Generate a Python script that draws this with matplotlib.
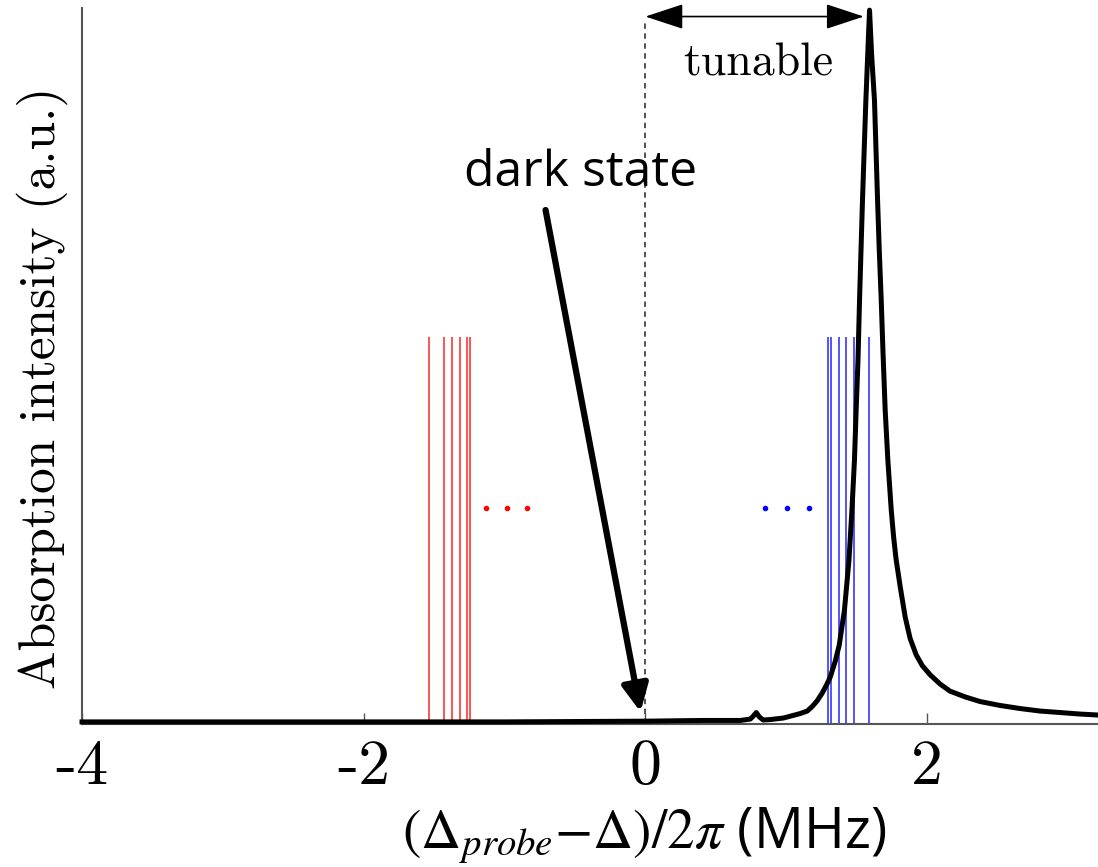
import matplotlib
matplotlib.use('Agg')
import matplotlib.pyplot as plt

plt.rcParams['mathtext.fontset'] = 'stix'

# absorption curve
curve_x = [-4.0, -3.0, -2.0, -1.0, 0.0, 0.4, 0.674, 0.745, 0.766, 0.787, 0.809, 0.837,
           0.887, 0.979, 1.099, 1.149, 1.184, 1.218, 1.255, 1.289, 1.312, 1.348, 1.376,
           1.397, 1.413, 1.429, 1.445, 1.466, 1.484, 1.496, 1.509, 1.520, 1.541, 1.565,
           1.578, 1.591, 1.606, 1.626, 1.648, 1.660, 1.674, 1.686, 1.702, 1.721, 1.745,
           1.762, 1.780, 1.809, 1.844, 1.879, 1.922, 1.965, 2.021, 2.092, 2.163, 2.270,
           2.376, 2.518, 2.660, 2.801, 2.943, 3.085, 3.213]
curve_y = [0.003, 0.003, 0.003, 0.003, 0.004, 0.005, 0.005, 0.007, 0.0112, 0.0161, 0.0098,
           0.0056, 0.0063, 0.0084, 0.0147, 0.0182, 0.0245, 0.0322, 0.0434, 0.056, 0.0658,
           0.0882, 0.1106, 0.1387, 0.1597, 0.1947, 0.2297, 0.2997, 0.3697, 0.4398, 0.5098,
           0.5938, 0.7339, 0.8739, 0.937, 1.0, 0.937, 0.874, 0.734, 0.664, 0.594, 0.524,
           0.440, 0.370, 0.300, 0.262, 0.230, 0.192, 0.150, 0.120, 0.097, 0.082, 0.069,
           0.056, 0.046, 0.038, 0.0315, 0.026, 0.0217, 0.0182, 0.0161, 0.014, 0.0126]

# red / blue transition lines and the dots next to them
red_x = [-1.539, -1.430, -1.376, -1.319, -1.267, -1.243]
blue_x = [1.293, 1.317, 1.374, 1.426, 1.480, 1.589]
line_top = 0.542
red_dots_x = [-1.133, -0.986, -0.839]
blue_dots_x = [0.851, 1.007, 1.163]
dots_y = 0.3025

xticks = [-4, -2, 0, 2]
xtick_labels = ['-4', '-2', '0', '2']

fig = plt.figure(figsize=(10.98, 8.67), dpi=100)
ax = fig.add_axes([0.0747, 0.1649, 0.9253, 0.8259])

ax.vlines(red_x, 0, line_top, colors='#ff1a1a', lw=1.4, alpha=0.75)
ax.vlines(blue_x, 0, line_top, colors='#1a1aff', lw=1.4, alpha=0.75)
ax.plot(red_dots_x, [dots_y] * 3, 'o', color='red', ms=4, mec='none')
ax.plot(blue_dots_x, [dots_y] * 3, 'o', color='blue', ms=4, mec='none')

# dashed line at zero detuning
ax.plot([0, 0], [0, 0.983], color='#444444', lw=1.3, ls=(0, (3, 2.5)))

ax.plot(curve_x, curve_y, color='black', lw=3.6, solid_joinstyle='round', clip_on=False, zorder=5)

# tunable arrow
ax.annotate('', xy=(0.0, 0.991), xytext=(1.55, 0.991),
            arrowprops=dict(arrowstyle='<|-|>,head_length=1.0,head_width=0.33',
                            mutation_scale=24, color='black', lw=1.2, shrinkA=0, shrinkB=0))
ax.text(0.8, 0.925, 'tunable', family='cmr10', fontsize=33, ha='center', va='center')

# dark state arrow
ax.annotate('', xy=(-0.035, 0.017), xytext=(-0.709, 0.72),
            arrowprops=dict(arrowstyle='-|>,head_length=0.45,head_width=0.22',
                            mutation_scale=36, color='black', lw=4.5, shrinkA=0, shrinkB=0))
ax.text(-0.459, 0.772, 'dark state', family='Open Sans', fontsize=36, ha='center', va='center')

ax.set_xlim(-4, 3.213)
ax.set_ylim(0, 1.003)
ax.set_xticks(xticks)
ax.set_xticklabels(xtick_labels, family='cmr10', fontsize=46)
ax.set_yticks([])
ax.tick_params(axis='x', direction='in', length=8, width=1, color='#555555', pad=11)
for s in ['top', 'right']:
    ax.spines[s].set_visible(False)
for s in ['left', 'bottom']:
    ax.spines[s].set_color('#555555')
    ax.spines[s].set_linewidth(1.5)

fig.text(0.038, 0.5525, 'Absorption intensity (a.u.)', family='cmr10', fontsize=37,
         rotation=90, ha='center', va='center')
fig.text(0.587, 0.036, r'$(\Delta_{probe}{-}\Delta)/2\pi$ (MHz)', family='Open Sans',
         fontsize=40, ha='center', va='center')

fig.savefig('out.png', dpi=100)
